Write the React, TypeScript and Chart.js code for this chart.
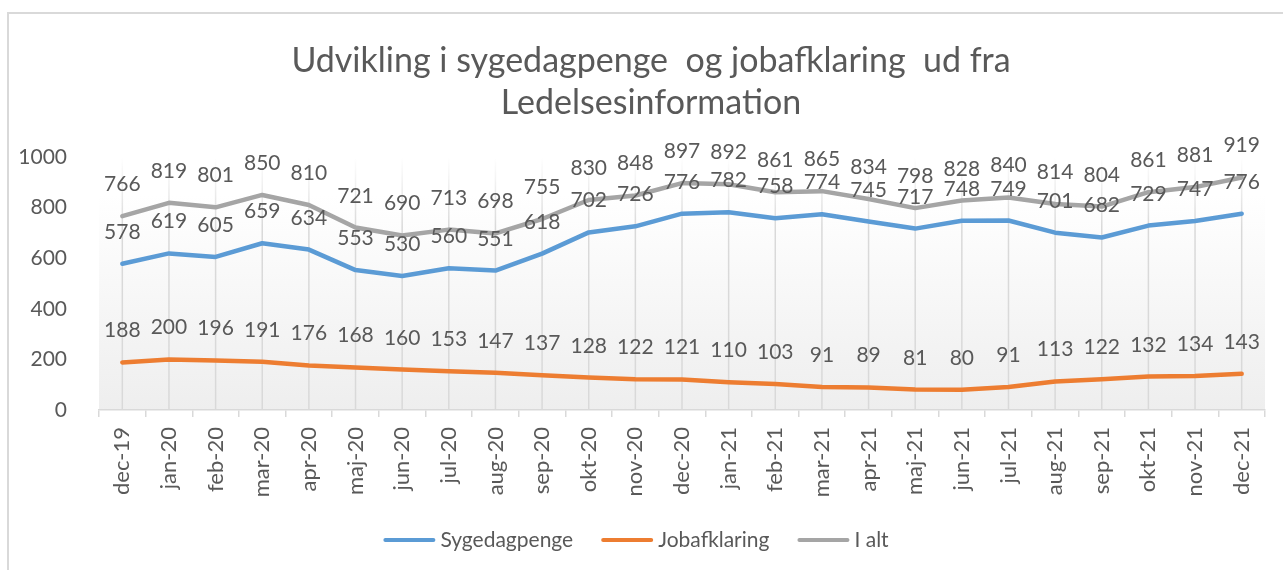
import React, { useEffect, useRef } from "react";
import { Chart, registerables } from "chart.js";

Chart.register(...registerables);

const categories = [
  "dec-19", "jan-20", "feb-20", "mar-20", "apr-20", "maj-20", "jun-20", "jul-20", "aug-20",
  "sep-20", "okt-20", "nov-20", "dec-20", "jan-21", "feb-21", "mar-21", "apr-21", "maj-21",
  "jun-21", "jul-21", "aug-21", "sep-21", "okt-21", "nov-21", "dec-21",
];
const sygedagpenge = [578, 619, 605, 659, 634, 553, 530, 560, 551, 618, 702, 726, 776, 782, 758, 774, 745, 717, 748, 749, 701, 682, 729, 747, 776];
const jobafklaring = [188, 200, 196, 191, 176, 168, 160, 153, 147, 137, 128, 122, 121, 110, 103, 91, 89, 81, 80, 91, 113, 122, 132, 134, 143];
const iAlt = [766, 819, 801, 850, 810, 721, 690, 713, 698, 755, 830, 848, 897, 892, 861, 865, 834, 798, 828, 840, 814, 804, 861, 881, 919];
const yTicks = [0, 200, 400, 600, 800, 1000];
const titleLines = ["Udvikling i sygedagpenge  og jobafklaring  ud fra", "Ledelsesinformation"];
const seriesNames = ["Sygedagpenge", "Jobafklaring", "I alt"];
const seriesColors = ["#5B9BD5", "#ED7D31", "#A5A5A5"];

const FONT = "Lato, 'Open Sans', sans-serif";
const TEXT = "#595959";

const decor = {
  id: "decor",
  beforeDraw(chart: any) {
    const { ctx, chartArea: a } = chart;
    ctx.save();
    ctx.strokeStyle = "#d9d9d9";
    ctx.lineWidth = 2;
    ctx.strokeRect(8, 13, 1400, 800);
    const g = ctx.createLinearGradient(0, a.top, 0, a.bottom);
    g.addColorStop(0, "#ffffff");
    g.addColorStop(0.15, "#ffffff");
    g.addColorStop(1, "#eeeeee");
    ctx.fillStyle = g;
    ctx.fillRect(a.left, a.top, a.right - a.left, a.bottom - a.top);
    ctx.restore();
  },
  beforeDatasetsDraw(chart: any) {
    const { ctx, chartArea: a } = chart;
    const xs = chart.scales.x;
    ctx.save();
    const g = ctx.createLinearGradient(0, a.top, 0, a.top + 70);
    g.addColorStop(0, "rgba(217,217,217,0)");
    g.addColorStop(1, "rgba(217,217,217,1)");
    ctx.strokeStyle = g;
    ctx.lineWidth = 1.5;
    for (let i = 0; i < categories.length; i++) {
      const x = xs.getPixelForValue(i);
      ctx.beginPath();
      ctx.moveTo(x, a.bottom);
      ctx.lineTo(x, a.top);
      ctx.stroke();
    }
    ctx.restore();
  },
  afterDatasetsDraw(chart: any) {
    const { ctx } = chart;
    ctx.save();
    ctx.font = `21px ${FONT}`;
    ctx.fillStyle = TEXT;
    ctx.textAlign = "center";
    ctx.textBaseline = "alphabetic";
    chart.data.datasets.forEach((ds: any, di: number) => {
      const meta = chart.getDatasetMeta(di);
      meta.data.forEach((pt: any, i: number) => {
        ctx.fillText(String(ds.data[i]), pt.x, pt.y - 25);
      });
    });
    ctx.restore();
  },
  afterDraw(chart: any) {
    const { ctx } = chart;
    ctx.save();
    ctx.fillStyle = TEXT;
    ctx.textAlign = "center";
    ctx.textBaseline = "alphabetic";
    ctx.font = `34px ${FONT}`;
    ctx.fillText(titleLines[0], 651, 72);
    ctx.fillText(titleLines[1], 651, 114);

    ctx.font = `21px ${FONT}`;
    ctx.textAlign = "left";
    const lineLen = 52, gapLT = 5, gapItems = 28;
    const widths = seriesNames.map((n) => ctx.measureText(n).width);
    const total = widths.reduce((s, w) => s + lineLen + gapLT + w, 0) + gapItems * (seriesNames.length - 1);
    let x = 636 - total / 2;
    const y = 540;
    seriesNames.forEach((n, i) => {
      ctx.strokeStyle = seriesColors[i];
      ctx.lineWidth = 4;
      ctx.lineCap = "round";
      ctx.beginPath();
      ctx.moveTo(x + 2, y);
      ctx.lineTo(x + lineLen - 2, y);
      ctx.stroke();
      ctx.fillText(n, x + lineLen + gapLT, y + 7);
      x += lineLen + gapLT + widths[i] + gapItems;
    });
    ctx.restore();
  },
};

export default function App() {
  const ref = useRef<HTMLCanvasElement | null>(null);
  useEffect(() => {
    if (!ref.current) return;
    const series = [sygedagpenge, jobafklaring, iAlt];
    const chart = new Chart(ref.current, {
      type: "line",
      data: {
        labels: categories,
        datasets: series.map((d, i) => ({
          label: seriesNames[i],
          data: d,
          borderColor: seriesColors[i],
          backgroundColor: seriesColors[i],
          borderWidth: 4.5,
          pointRadius: 0,
          tension: 0,
          borderJoinStyle: "round" as const,
          borderCapStyle: "round" as const,
          order: 3 - i,
        })),
      },
      options: {
        responsive: false,
        animation: false,
        layout: { padding: { left: 0, right: 18, top: 157, bottom: 0 } },
        plugins: {
          legend: { display: false },
          title: { display: false },
          tooltip: { enabled: false },
        },
        scales: {
          x: {
            type: "category",
            offset: true,
            grid: {
              offset: true,
              drawOnChartArea: false,
              drawTicks: true,
              tickLength: 7,
              color: "#d9d9d9",
              lineWidth: 1.5,
            },
            border: { display: true, color: "#d9d9d9", width: 1.5 },
            ticks: {
              minRotation: 90,
              maxRotation: 90,
              autoSkip: false,
              padding: 10,
              color: TEXT,
              font: { family: FONT, size: 22 },
            },
            afterFit(scale: any) {
              scale.height = 160;
            },
          },
          y: {
            min: 0,
            max: 1000,
            grid: { display: false },
            border: { display: false },
            ticks: {
              padding: 24,
              color: TEXT,
              font: { family: FONT, size: 21 },
              callback: (v: any) => String(v),
            },
            afterBuildTicks(scale: any) {
              scale.ticks = yTicks.map((v) => ({ value: v }));
            },
            afterFit(scale: any) {
              scale.width = 99;
            },
          },
        },
      },
      plugins: [decor],
    });
    return () => chart.destroy();
  }, []);
  return (
    <div style={{ position: "fixed", left: 0, top: 0, width: 1283, height: 570, background: "#fff", overflow: "hidden" }}>
      <canvas ref={ref} width={1283} height={570} style={{ width: 1283, height: 570, display: "block" }} />
    </div>
  );
}
